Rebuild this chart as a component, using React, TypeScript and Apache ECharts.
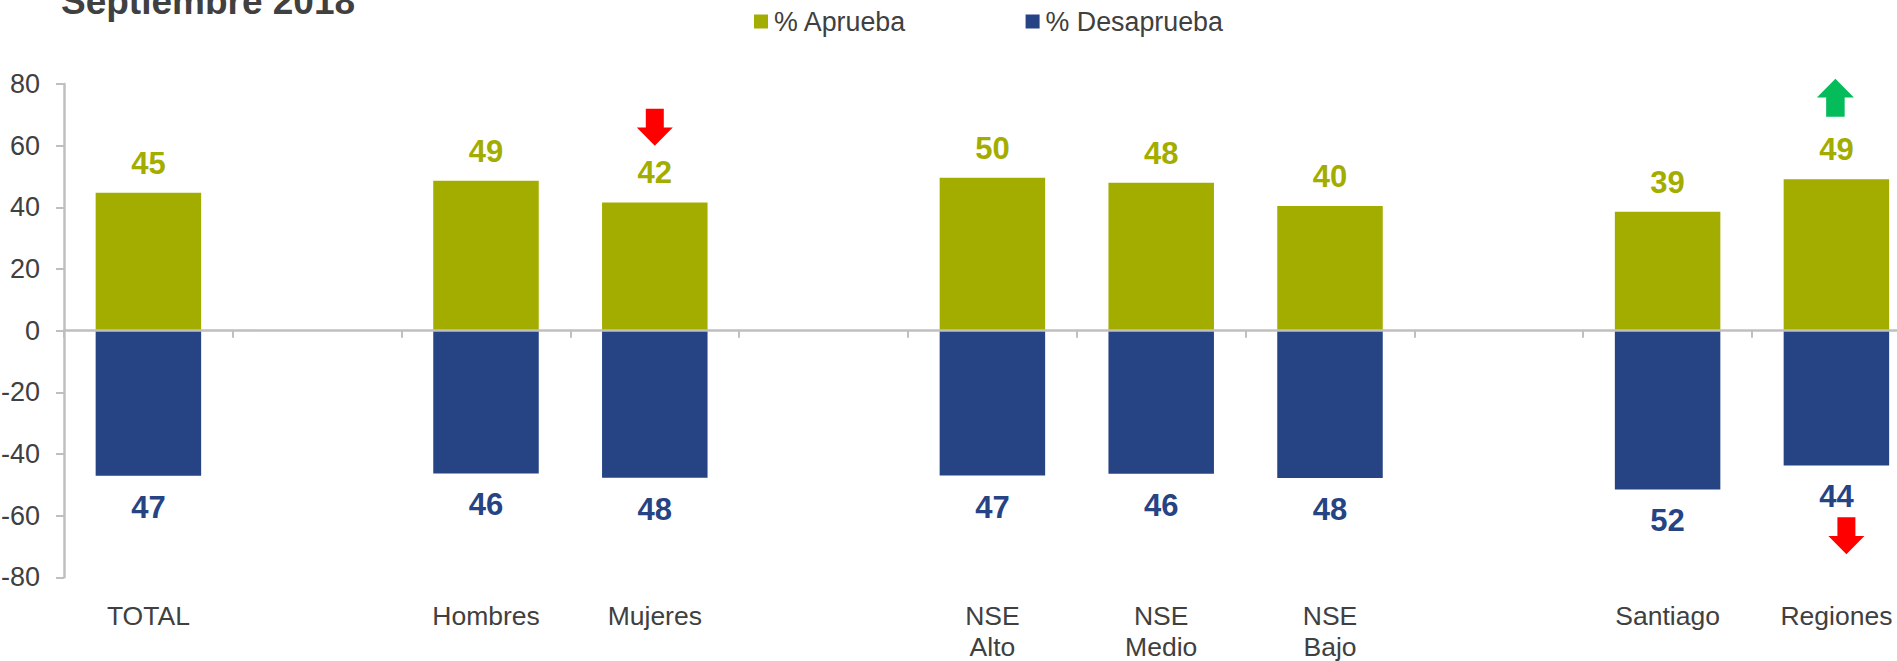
import React, { useEffect, useRef } from "react";
import * as echarts from "echarts";

const categories = ["TOTAL", "", "Hombres", "Mujeres", "", "NSE\nAlto", "NSE\nMedio", "NSE\nBajo", "", "Santiago", "Regiones"];
const aprueba = [44.7, null, 48.6, 41.6, null, 49.6, 48, 40.4, null, 38.6, 49.1];
const desaprueba = [-47.1, null, -46.3, -47.7, null, -47, -46.4, -47.8, null, -51.5, -43.7];
const titleText = "Septiembre 2018";
const seriesNames = ["% Aprueba", "% Desaprueba"];
const OLIVE = "#A3AD00";
const BLUE = "#264384";
const GREY = "#BFBFBF";
const TEXT = "#404040";
const FONT = "'Liberation Sans', Arial, sans-serif";
const DOWN = "path://M25 0H75V51H100L50 100L0 51H25Z";
const UP = "path://M50 0L100 49H75V100H25V49H0Z";
const redArrows = [
  { coord: [3, 66], offset: 0 },
  { coord: [10, -66.5], offset: 10 },
];
const greenArrows = [{ coord: [10, 75.5], offset: -1 }];

export default function App() {
  const ref = useRef<HTMLDivElement>(null);
  useEffect(() => {
    document.body.style.margin = "0";
    document.documentElement.style.overflow = "hidden";
    const chart = echarts.init(ref.current!, undefined, { renderer: "svg" });
    const label = (position: string, color: string, distance: number) => ({
      show: true,
      position,
      distance,
      color,
      fontFamily: FONT,
      fontWeight: "bold",
      fontSize: 31,
      formatter: (p: any) => String(Math.round(Math.abs(p.value))),
    });
    chart.setOption({
      animation: false,
      tooltip: { show: false },
      title: {
        text: titleText,
        left: 61,
        top: -17,
        padding: 0,
        textStyle: { color: TEXT, fontFamily: FONT, fontWeight: "bold", fontSize: 37 },
      },
      legend: {
        left: 754,
        top: 8,
        padding: 0,
        itemWidth: 14,
        itemHeight: 14,
        itemGap: 119,
        icon: "rect",
        selectedMode: false,
        textStyle: { color: TEXT, fontFamily: FONT, fontSize: 26.8, padding: [0, 0, 0, 1] },
        data: seriesNames,
      },
      grid: { left: 64, top: 84, width: 1856.8, height: 493.3, outerBoundsMode: "none", containLabel: false },
      xAxis: {
        type: "category",
        data: categories,
        z: 3,
        axisLine: { onZero: true, lineStyle: { color: GREY, width: 2.5 } },
        axisTick: { show: true, alignWithLabel: false, interval: 0, length: 7, lineStyle: { color: GREY, width: 2 } },
        axisLabel: {
          interval: 0,
          margin: 23,
          color: TEXT,
          fontFamily: FONT,
          fontSize: 26.5,
          lineHeight: 31,
          hideOverlap: false,
        },
      },
      yAxis: {
        type: "value",
        min: -80,
        max: 80,
        interval: 20,
        splitLine: { show: false },
        axisLine: { show: true, onZero: false, lineStyle: { color: GREY, width: 2.5 } },
        axisTick: { show: true, length: 8, lineStyle: { color: GREY, width: 2 } },
        axisLabel: { margin: 24, color: TEXT, fontFamily: FONT, fontSize: 27 },
      },
      series: [
        {
          name: seriesNames[0],
          type: "bar",
          stack: "t",
          barWidth: "62.5%",
          data: aprueba,
          itemStyle: { color: OLIVE },
          label: label("top", OLIVE, 14),
          markPoint: {
            silent: true,
            symbol: DOWN,
            symbolSize: [36, 37],
            itemStyle: { color: "#FF0000" },
            label: { show: false },
            data: redArrows.map((a) => ({ coord: a.coord, symbolOffset: [a.offset, 0] })),
          },
        },
        {
          name: seriesNames[1],
          type: "bar",
          stack: "t",
          barWidth: "62.5%",
          data: desaprueba,
          itemStyle: { color: BLUE },
          label: label("bottom", BLUE, 16),
          markPoint: {
            silent: true,
            symbol: UP,
            symbolSize: [37, 38],
            itemStyle: { color: "#05BC5B" },
            label: { show: false },
            data: greenArrows.map((a) => ({ coord: a.coord, symbolOffset: [a.offset, 0] })),
          },
        },
      ],
    });
    return () => chart.dispose();
  }, []);
  return <div ref={ref} style={{ width: 1897, height: 661, overflow: "hidden", background: "#fff" }} />;
}
